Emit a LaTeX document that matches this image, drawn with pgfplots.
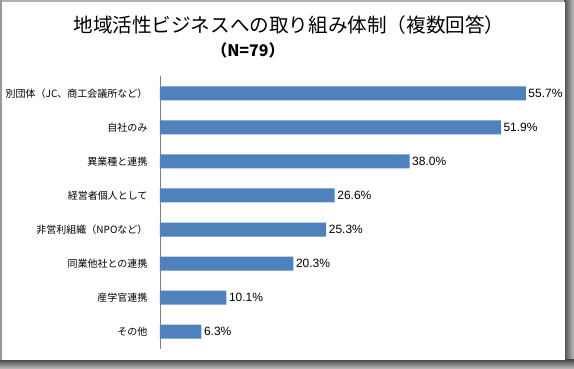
\documentclass[border=0pt]{standalone}
\usepackage{fontspec}
\setmainfont{Liberation Sans}
\newfontfamily\jp{Noto Sans CJK JP}
\usepackage{pgfplots}
\pgfplotsset{compat=1.18}
\definecolor{barblue}{RGB}{79,129,189}
\begin{document}
\begin{tikzpicture}[x=1pt,y=1pt]
\path[use as bounding box] (0,0) rectangle (574,369);
% frame
\fill[gray!60] (0,0) rectangle (574,369);
\shade[left color=black!70,right color=black!25] (564,0) rectangle (574,369);
\shade[top color=black!70,bottom color=black!25] (0,0) rectangle (574,9);
\fill[black!40] (0,9) rectangle (2,369);
\fill[white] (2,9) rectangle (565,367);
% titles
\node[font=\jp\fontsize{19.6}{22}\selectfont, inner sep=0pt] at (289,344) {地域活性ビジネスへの取り組み体制（複数回答）};
\node[font=\jp\bfseries\fontsize{16}{19}\selectfont, inner sep=0pt] at (248,319) {（N=79）};
\begin{axis}[
  at={(160pt,20.3pt)}, anchor=south west,
  scale only axis, width=394pt, height=272.4pt,
  xbar, bar width=14pt,
  xmin=0, xmax=60,
  ymin=-0.5, ymax=7.5, y dir=reverse,
  axis x line=none,
  axis y line=left,
  axis line style={-, draw=black!50},
  ytick={0,...,7},
  yticklabels={別団体（JC、商工会議所など）,自社のみ,異業種と連携,経営者個人として,非営利組織（NPOなど）,同業他社との連携,産学官連携,その他},
  yticklabel style={font=\jp\fontsize{10}{12}\selectfont, xshift=-9pt},
  major tick length=0pt,
  /pgf/number format/assume math mode=true,
  nodes near coords={\pgfmathprintnumber[fixed,fixed zerofill,precision=1,assume math mode=true]{\pgfplotspointmeta}\%},
  nodes near coords style={font=\fontsize{12}{14}\selectfont, anchor=west, inner xsep=2.5pt},
  point meta=explicit,
  clip=false,
]
\addplot[draw=none, fill=barblue] table[x=v, y=i, meta=v] {
i v
0 55.7
1 51.9
2 38.0
3 26.6
4 25.3
5 20.3
6 10.1
7 6.3
};
\end{axis}
\end{tikzpicture}
\end{document}
